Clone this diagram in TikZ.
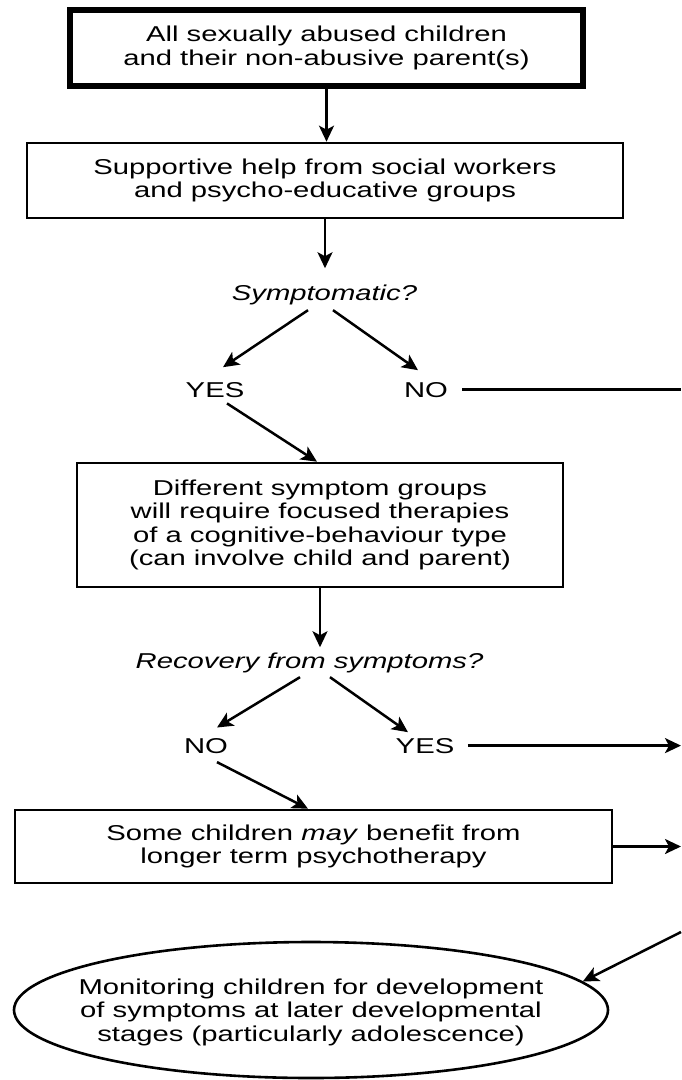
\documentclass[tikz,border=0pt]{standalone}
\usepackage{fontspec}
\setmainfont{Liberation Sans}[FakeStretch=1.36]
\usetikzlibrary{arrows.meta}
\usetikzlibrary{shapes.geometric}

\newcommand{\flowfont}{\fontsize{21.5}{23.5}\selectfont}

\begin{document}
\begin{tikzpicture}[x=1pt,y=-1pt,
  every node/.style={font=\flowfont},
  box/.style={draw,line width=2.6pt,inner sep=0pt,align=center},
  lbl/.style={inner sep=0pt,anchor=base},
  ask/.style={lbl,font=\flowfont\itshape},
  arr/.style={-{Stealth[length=16pt,width=15pt,inset=4pt]},line width=2.5pt}]
\useasboundingbox [fill=white] (0,0) rectangle (681,1080);

\node [box,line width=5.5pt,minimum width=513,minimum height=76] (abused) at (326.5,48) {All sexually abused children\\and their non-abusive parent(s)};
\node [box,minimum width=596,minimum height=75] (support) at (325,180.5) {Supportive help from social workers\\and psycho-educative groups};
\node [box,minimum width=486,minimum height=124] (therapies) at (320,525) {Different symptom groups\\will require focused therapies\\of a cognitive-behaviour type\\(can involve child and parent)};
\node [box,minimum width=597,minimum height=73] (longer) at (313.5,846.5) {Some children \textit{may} benefit from\\longer term psychotherapy};
\node [draw,ellipse,line width=2.6pt,inner xsep=-60pt,inner ysep=0pt,minimum width=594,minimum height=136] (monitor) at (311,1010) {};
\node [align=center,inner sep=0pt] (montext) at (311,1012) {Monitoring children for development\\of symptoms at later developmental\\stages (particularly adolescence)};

\node [ask] (sym) at (324.5,300) {Symptomatic?};
\node [lbl] (yes1) at (215,397) {YES};
\node [lbl] (no1) at (426,397) {NO};
\node [ask] (rec) at (309.5,668) {Recovery from symptoms?};
\node [lbl] (no2) at (206,753) {NO};
\node [lbl] (yes2) at (425,753) {YES};

\coordinate (noend) at (681,390);
\coordinate (yesend) at (681,745);
\coordinate (longend) at (681,846);
\coordinate (monin) at (681,932);

\draw [arr] (abused.south) -- (abused.south |- support.north);
\draw [arr,shorten >=16pt] (support.south) -- (support.south |- sym.north);
\draw [arr] ([xshift=-16.5pt,yshift=-5.5pt]sym.south) -- ([xshift=8pt,yshift=14.6pt]yes1.north);
\draw [arr] ([xshift=8.5pt,yshift=-5.5pt]sym.south) -- ([xshift=-8pt,yshift=11.6pt]no1.north);
\draw [line width=2.5pt] ([xshift=14pt]no1.east) -- (no1.east -| noend);
\draw [arr] ([xshift=12pt,yshift=-6pt]yes1.south) -- ([xshift=-3pt]therapies.north);
\draw [arr,shorten >=5pt] (therapies.south) -- (therapies.south |- rec.north);
\draw [arr] ([xshift=-9.5pt,yshift=-4.5pt]rec.south) -- ([xshift=11pt,yshift=10.3pt]no2.north);
\draw [arr] ([xshift=20.5pt,yshift=-4.5pt]rec.south) -- ([xshift=-17pt,yshift=5.6pt]yes2.north);
\draw [arr] ([xshift=13.5pt]yes2.east) -- (yes2.east -| yesend);
\draw [arr] ([xshift=11pt,yshift=-8.7pt]no2.south) -- ([xshift=-5.5pt]longer.north);
\draw [arr] (longer.east) -- (longer.east -| longend);
\draw [arr] (monin) -- (monitor.6.4);
\end{tikzpicture}
\end{document}
